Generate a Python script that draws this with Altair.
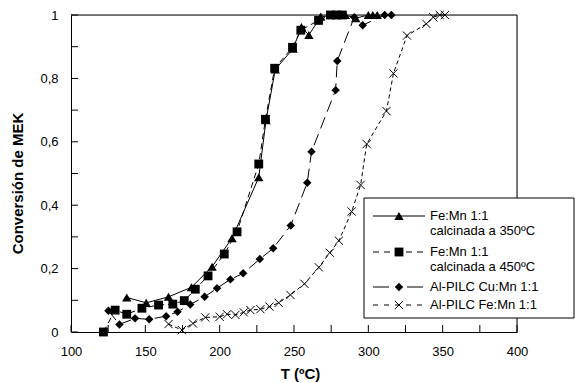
import altair as alt
import pandas as pd

FONT = "Liberation Sans"

# Fe:Mn 1:1 calcinada a 350ºC  (triangles, solid line)
t_fe350 = [137.5, 150.6, 165.6, 181.0, 194.9, 208.3, 226.3, 231.2, 237.4, 249.4,
           255.0, 260.0, 268.0, 284.5, 291.5, 300.0, 303.0, 306.0]
x_fe350 = [0.109, 0.092, 0.111, 0.141, 0.206, 0.296, 0.488, 0.668, 0.828, 0.894,
           0.962, 0.937, 0.995, 1.0, 0.990, 1.0, 1.0, 1.0]

# Fe:Mn 1:1 calcinada a 450ºC  (squares, dashed line)
t_fe450 = [121.8, 129.7, 137.5, 147.7, 158.9, 168.5, 176.2, 183.6, 192.2, 203.1,
           211.7, 226.3, 230.8, 237.0, 249.0, 254.6, 266.5, 274.5, 278.5, 282.5]
x_fe450 = [0.0, 0.069, 0.056, 0.075, 0.085, 0.088, 0.099, 0.135, 0.177, 0.246,
           0.316, 0.530, 0.671, 0.832, 0.898, 0.952, 0.983, 1.0, 1.0, 1.0]

# Al-PILC Cu:Mn 1:1  (diamonds, long dashes)
t_cumn = [125.2, 132.6, 143.1, 152.6, 164.0, 171.7, 180.2, 189.9, 198.2, 207.2,
          215.8, 227.0, 236.0, 247.8, 258.9, 261.8, 278.0, 279.1, 290.5, 296.2,
          311.0, 315.5]
x_cumn = [0.067, 0.024, 0.043, 0.040, 0.050, 0.064, 0.087, 0.111, 0.138, 0.166,
          0.185, 0.230, 0.264, 0.336, 0.471, 0.569, 0.763, 0.855, 0.993, 0.968,
          1.0, 1.0]

# Al-PILC Fe:Mn 1:1  (crosses, short dashes)
t_femn = [165.6, 174.6, 182.0, 190.3, 200.0, 205.0, 210.6, 216.2, 220.7, 227.4,
          233.5, 239.7, 247.6, 257.0, 266.7, 274.1, 280.2, 288.8, 294.8, 298.9,
          312.2, 316.9, 326.0, 339.0, 343.7, 348.0, 351.5]
x_femn = [0.025, 0.006, 0.027, 0.046, 0.048, 0.056, 0.054, 0.062, 0.069, 0.072,
          0.080, 0.092, 0.117, 0.152, 0.204, 0.250, 0.288, 0.380, 0.464, 0.593,
          0.697, 0.816, 0.935, 0.972, 0.993, 1.0, 1.0]

# legend text, one list of lines per series
legend_labels = [
    ["Fe:Mn 1:1", "calcinada a 350ºC"],
    ["Fe:Mn 1:1", "calcinada a 450ºC"],
    ["Al-PILC Cu:Mn 1:1"],
    ["Al-PILC Fe:Mn 1:1"],
]

# axis labels and inner tick marks
x_labels = [100, 150, 200, 250, 300, 350, 400]
y_labels = [0, 0.2, 0.4, 0.6, 0.8, 1]
x_minor = [100, 125, 150, 175, 200, 225, 250, 275, 300, 325, 350, 375, 400]
y_minor = [0, 0.1, 0.2, 0.3, 0.4, 0.5, 0.6, 0.7, 0.8, 0.9, 1.0]

W, H = 446, 317
CROSS = "M-1,-1L1,1M-1,1L1,-1"

xs = alt.Scale(domain=[100, 400], nice=False, zero=False)
ys = alt.Scale(domain=[0, 1], nice=False)

x_axis = alt.Axis(
    values=x_labels, tickSize=0, labelPadding=13, labelFontSize=13,
    labelFont=FONT, labelColor="black", labelFlush=False, domainColor="black",
    grid=False, title="T (ºC)", titleFont=FONT, titleFontSize=15,
    titleFontWeight="bold", titleColor="black", titleX=229, titleY=41,
    titleBaseline="middle", titleAlign="center",
)
y_axis = alt.Axis(
    values=y_labels, tickSize=0, labelPadding=13, labelFontSize=13,
    labelFont=FONT, labelColor="black", labelFlush=False, domainColor="black",
    grid=False, labelExpr="replace(format(datum.value, '.1~f'), '.', ',')",
    title="Conversión de MEK", titleFont=FONT, titleFontSize=15,
    titleFontWeight="bold", titleColor="black", titleAngle=270,
    titleX=-54, titleY=168, titleBaseline="middle", titleAlign="center",
)

one = pd.DataFrame({"k": [0]})

# inward ticks and the top / right frame
x_ticks = alt.Chart(pd.DataFrame({"tx": x_minor})).mark_rule(
    color="black", strokeWidth=1
).encode(x=alt.X("tx:Q", scale=xs, axis=x_axis), y=alt.value(H), y2=alt.value(H - 7))
y_ticks = alt.Chart(pd.DataFrame({"ty": y_minor})).mark_rule(
    color="black", strokeWidth=1
).encode(y=alt.Y("ty:Q", scale=ys, axis=y_axis), x=alt.value(0), x2=alt.value(7))
frame_top = alt.Chart(one).mark_rule(color="black", strokeWidth=1).encode(
    x=alt.value(0), x2=alt.value(W), y=alt.value(0))
frame_right = alt.Chart(one).mark_rule(color="black", strokeWidth=1).encode(
    x=alt.value(W), y=alt.value(0), y2=alt.value(H))

styles = [
    dict(shape="triangle-up", size=88, filled=True, dash=None, ldash=None),
    dict(shape="square", size=78, filled=True, dash=[6, 4], ldash=[6, 5]),
    dict(shape="diamond", size=72, filled=True, dash=[12, 6], ldash=[16, 18]),
    dict(shape=CROSS, size=68, filled=False, dash=[4, 3], ldash=[5, 6]),
]
series = [(t_fe350, x_fe350), (t_fe450, x_fe450), (t_cumn, x_cumn), (t_femn, x_femn)]

line_layers, point_layers = [], []
for (t, x), st in zip(series, styles):
    df = pd.DataFrame({"T": t, "X": x})
    base = alt.Chart(df).encode(
        x=alt.X("T:Q", scale=xs, axis=x_axis),
        y=alt.Y("X:Q", scale=ys, axis=y_axis),
    )
    lk = dict(color="black", strokeWidth=1)
    if st["dash"]:
        lk["strokeDash"] = st["dash"]
    line_layers.append(base.mark_line(**lk))
    point_layers.append(base.mark_point(
        shape=st["shape"], size=st["size"], filled=st["filled"], color="black",
        opacity=1, strokeWidth=1))

# legend box drawn in pixel space
BX0, BX1, BY0, BY1 = 293, 503, 183, 303
LX0, LX1, MX, TX = 302, 354, 328, 359
row_y = [201, 237, 272, 290]
line_gap = 15

legend_layers = [
    alt.Chart(one).mark_rect(fill="white", stroke="black", strokeWidth=1).encode(
        x=alt.value(BX0), x2=alt.value(BX1), y=alt.value(BY0), y2=alt.value(BY1))
]
for ly, st, labels in zip(row_y, styles, legend_labels):
    rk = dict(color="black", strokeWidth=1)
    if st["ldash"]:
        rk["strokeDash"] = st["ldash"]
    legend_layers.append(alt.Chart(one).mark_rule(**rk).encode(
        x=alt.value(LX0), x2=alt.value(LX1), y=alt.value(ly)))
    legend_layers.append(alt.Chart(one).mark_point(
        shape=st["shape"], size=st["size"], filled=st["filled"], color="black",
        opacity=1, strokeWidth=1).encode(x=alt.value(MX), y=alt.value(ly)))
    for i, txt in enumerate(labels):
        legend_layers.append(alt.Chart(one).mark_text(
            align="left", baseline="middle", font=FONT, fontSize=13, color="black"
        ).encode(x=alt.value(TX), y=alt.value(ly + i * line_gap), text=alt.value(txt)))

chart = alt.layer(
    x_ticks, y_ticks, frame_top, frame_right,
    *line_layers, *point_layers, *legend_layers,
).properties(
    width=W, height=H,
    autosize=alt.AutoSizeParams(type="none"),
    padding={"left": 71, "top": 15, "right": 58, "bottom": 51},
).configure_view(stroke=None).configure(background="white")

chart.save("out.html", embed_options={"renderer": "svg", "actions": False})
